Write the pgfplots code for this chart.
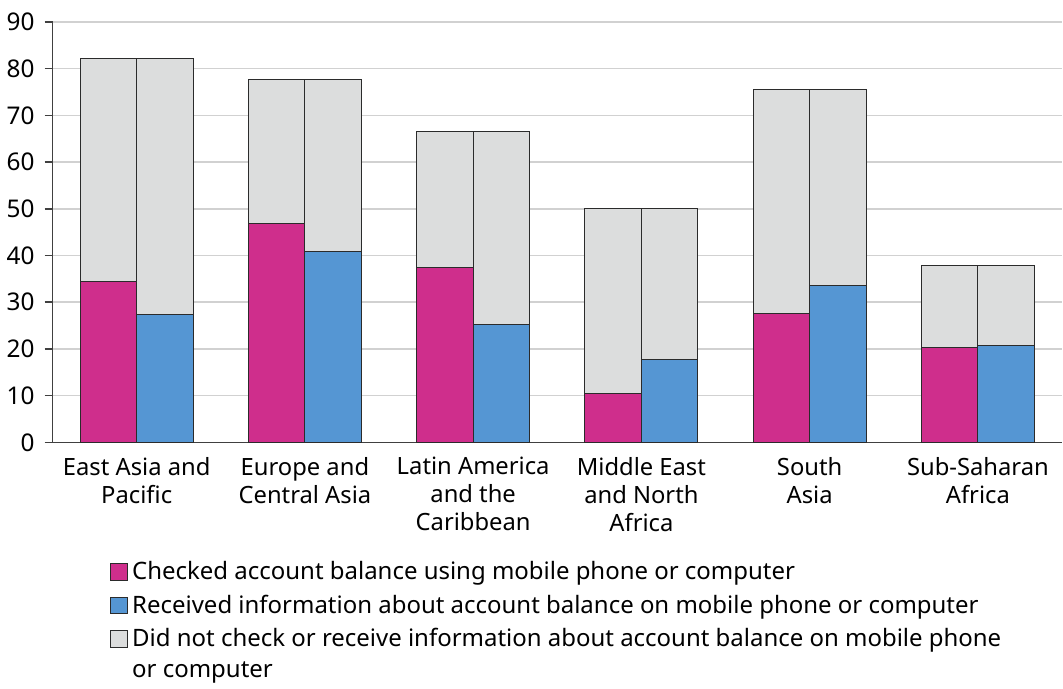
\documentclass[border=0pt]{standalone}
\usepackage{fontspec}
\setmainfont{Noto Sans}
\usepackage{pgfplots}
\pgfplotsset{compat=1.18}
\definecolor{chk}{HTML}{CF2E8C}
\definecolor{rcv}{HTML}{5596D3}
\definecolor{non}{HTML}{DCDDDD}
\definecolor{edge}{HTML}{2B2B2B}
\pgfplotsset{sq/.style={legend image code/.code={\draw[##1,draw=edge,line width=0.5pt] (0pt,-4.2pt) rectangle (8.4pt,4.2pt);}}}
\begin{document}
\begin{tikzpicture}
\begin{axis}[
  scale only axis, width=505.5pt, height=210.5pt,
  xmin=-0.5, xmax=5.5, ymin=0, ymax=90,
  ytick={0,10,...,90},
  xtick={0,...,5},
  xticklabels={East Asia and\\Pacific, Europe and\\Central Asia, Latin America\\and the\\Caribbean, Middle East\\and North\\Africa, South\\Asia, Sub-Saharan\\Africa},
  xticklabel style={align=center, font=\fontsize{11.9}{14}\selectfont},
  yticklabel style={font=\fontsize{12.2}{13}\selectfont, xshift=-1.5pt},
  /pgf/number format/assume math mode=true,
  axis lines*=left,
  axis line style={draw=black!75, line width=0.75pt},
  ymajorgrids, grid style={black!18, line width=0.75pt},
  xtick style={draw=none},
  ytick style={draw=black!75, line width=0.75pt},
  tick align=outside, major tick length=4pt,
  ybar, bar width=0.336,
  legend style={at={(rel axis cs:0.051,-0.264)}, anchor=north west, draw=none, fill=none,
    font=\fontsize{12}{14.5}\selectfont, row sep=2pt},
  legend cell align=left,
]
% totals (grey part reaches the full height of each pair)
\addplot[fill=non, draw=edge, line width=0.5pt, bar shift=-0.168, forget plot]
  coordinates {(0,82.2) (1,77.6) (2,66.5) (3,50.0) (4,75.5) (5,37.8)};
\addplot[fill=non, draw=edge, line width=0.5pt, bar shift=0.168, forget plot]
  coordinates {(0,82.2) (1,77.6) (2,66.5) (3,50.0) (4,75.5) (5,37.8)};
% checked
\addplot[fill=chk, draw=edge, line width=0.5pt, bar shift=-0.168, sq]
  coordinates {(0,34.4) (1,46.8) (2,37.4) (3,10.5) (4,27.6) (5,20.4)};
\addlegendentry{Checked account balance using mobile phone or computer}
% received
\addplot[fill=rcv, draw=edge, line width=0.5pt, bar shift=0.168, sq]
  coordinates {(0,27.4) (1,40.8) (2,25.2) (3,17.7) (4,33.6) (5,20.8)};
\addlegendentry{Received information about account balance on mobile phone or computer}
\addlegendimage{fill=non, sq}
\addlegendentry{Did not check or receive information about account balance on mobile phone}
\addlegendimage{empty legend}
\addlegendentry{or computer}
\end{axis}
\path (current axis.south west) ++(-25.5pt,-119.5pt) rectangle (current axis.north east) ++(0.5pt,11pt);
\end{tikzpicture}
\end{document}
